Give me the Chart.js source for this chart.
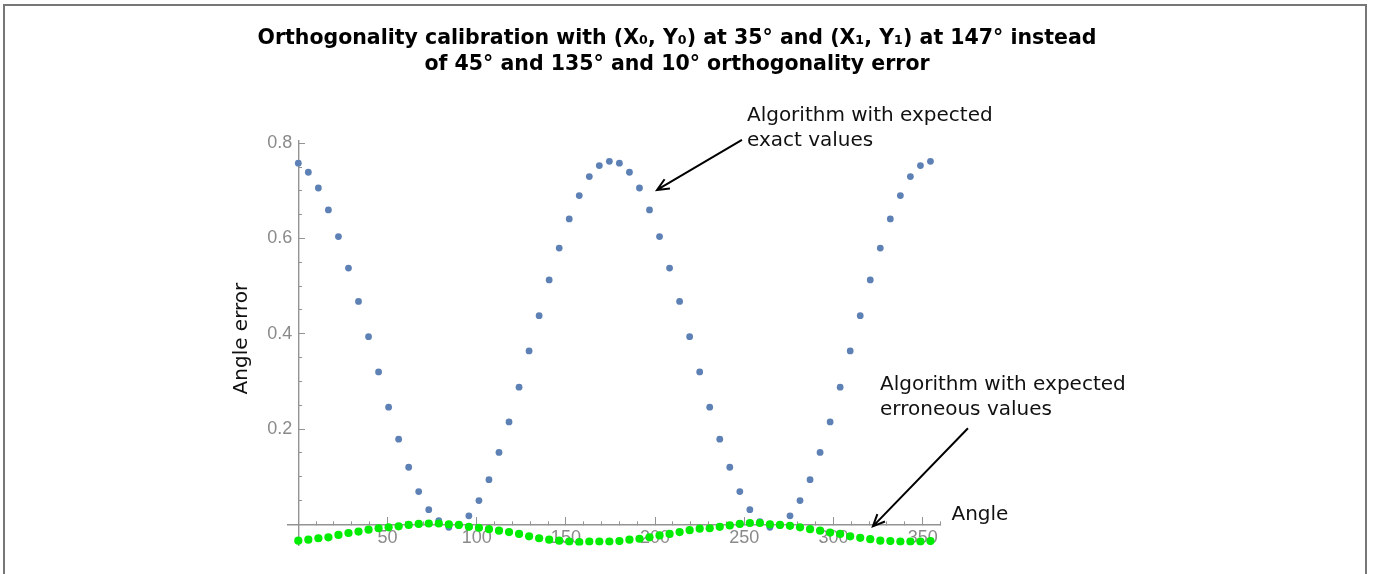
<!DOCTYPE html>
<html>
<head>
<meta charset="utf-8">
<title>Orthogonality calibration</title>
<script src="https://cdn.jsdelivr.net/npm/chart.js@4.4.1/dist/chart.umd.min.js"></script>
<style>
  html, body { margin: 0; padding: 0; background: #fff; }
  #wrap { position: relative; width: 1373px; height: 574px; overflow: hidden; }
  #frame { position: absolute; left: 3px; top: 4px; width: 1360px; height: 620px; border: 2px solid #777; border-bottom: none; }
  #chartBox { position: absolute; left: 0; top: 0; width: 1373px; height: 574px; }
</style>
</head>
<body>
<div id="wrap">
  <div id="frame"></div>
  <div id="chartBox"><canvas id="calibration"></canvas></div>
</div>
<script>
// sample angles (degrees)
const angles = [
  0, 5.625, 11.25, 16.875, 22.5, 28.125, 33.75, 39.375,
  45, 50.625, 56.25, 61.875, 67.5, 73.125, 78.75, 84.375,
  90, 95.625, 101.25, 106.875, 112.5, 118.125, 123.75, 129.375,
  135, 140.625, 146.25, 151.875, 157.5, 163.125, 168.75, 174.375,
  180, 185.625, 191.25, 196.875, 202.5, 208.125, 213.75, 219.375,
  225, 230.625, 236.25, 241.875, 247.5, 253.125, 258.75, 264.375,
  270, 275.625, 281.25, 286.875, 292.5, 298.125, 303.75, 309.375,
  315, 320.625, 326.25, 331.875, 337.5, 343.125, 348.75, 354.375
]

// angle error, algorithm with expected exact values
const exactError = [
  0.758, 0.739, 0.706, 0.660, 0.604, 0.538, 0.468, 0.394,
  0.320, 0.246, 0.179, 0.120, 0.069, 0.031, 0.008, -0.006,
  -0.002, 0.018, 0.050, 0.094, 0.151, 0.215, 0.288, 0.364,
  0.438, 0.513, 0.580, 0.641, 0.690, 0.730, 0.753, 0.762,
  0.758, 0.739, 0.706, 0.660, 0.604, 0.538, 0.468, 0.394,
  0.320, 0.246, 0.179, 0.120, 0.069, 0.031, 0.006, -0.006,
  -0.002, 0.018, 0.050, 0.094, 0.151, 0.215, 0.288, 0.364,
  0.438, 0.513, 0.580, 0.641, 0.690, 0.730, 0.753, 0.762
]

// angle error, algorithm with expected erroneous values
const erroneousError = [
  -0.034, -0.032, -0.029, -0.027, -0.022, -0.018, -0.015, -0.011,
  -0.008, -0.006, -0.004, -0.001, 0.001, 0.002, 0.002, 0.000,
  -0.001, -0.005, -0.007, -0.010, -0.013, -0.016, -0.020, -0.025,
  -0.029, -0.032, -0.034, -0.036, -0.037, -0.036, -0.036, -0.036,
  -0.035, -0.032, -0.030, -0.027, -0.023, -0.020, -0.016, -0.012,
  -0.009, -0.008, -0.005, -0.002, 0.001, 0.003, 0.003, 0.000,
  -0.001, -0.003, -0.006, -0.010, -0.013, -0.017, -0.020, -0.025,
  -0.028, -0.031, -0.034, -0.035, -0.036, -0.036, -0.036, -0.035
]

const titleLines = [
  "Orthogonality calibration with (X\u2080, Y\u2080) at 35\u00b0 and (X\u2081, Y\u2081) at 147\u00b0 instead",
  "of 45\u00b0 and 135\u00b0 and 10\u00b0 orthogonality error"
]
const xTitle = "Angle"
const yTitle = "Angle error"

// callouts: text anchor and arrow ends, in data units
const callouts = [
  { lines: ["Algorithm with expected", "exact values"], at: [251.5, 0.857], tail: [248.7, 0.807], tip: [201.1, 0.702] },
  { lines: ["Algorithm with expected", "erroneous values"], at: [326.1, 0.294], tail: [375.4, 0.2017], tip: [322.1, -0.004] }
]

const axisGray = '#939393'
const labelGray = '#8a8a8a'

const toPoints = (ys) => angles.map((a, i) => ({ x: a, y: ys[i] }))

const drawArrow = (ctx, x1, y1, x2, y2) => {
  const ang = Math.atan2(y2 - y1, x2 - x1)
  const head = 13
  ctx.beginPath()
  ctx.moveTo(x1, y1)
  ctx.lineTo(x2, y2)
  ctx.moveTo(x2 - head * Math.cos(ang - 0.42), y2 - head * Math.sin(ang - 0.42))
  ctx.lineTo(x2, y2)
  ctx.lineTo(x2 - head * Math.cos(ang + 0.42), y2 - head * Math.sin(ang + 0.42))
  ctx.stroke()
}

const calibrationLabels = {
  id: 'calibrationLabels',
  afterDraw(chart) {
    const { ctx, scales: { x, y } } = chart
    ctx.save()

    // title
    ctx.fillStyle = '#000'
    ctx.textAlign = 'center'
    ctx.textBaseline = 'alphabetic'
    ctx.font = "bold 20.5px 'DejaVu Sans'"
    ctx.fillText(titleLines[0], 677, 44)
    ctx.fillText(titleLines[1], 677, 70)

    // axis titles
    ctx.font = "20px 'DejaVu Sans'"
    ctx.fillStyle = '#111'
    ctx.textAlign = 'left'
    ctx.textBaseline = 'middle'
    ctx.fillText(xTitle, x.right + 11, y.getPixelForValue(0) - 10)

    ctx.save()
    ctx.translate(x.getPixelForValue(0) - 57, y.getPixelForValue(0.39))
    ctx.rotate(-Math.PI / 2)
    ctx.textAlign = 'center'
    ctx.fillText(yTitle, 0, 0)
    ctx.restore()

    // callouts
    ctx.strokeStyle = '#000'
    ctx.lineWidth = 2
    callouts.forEach(c => {
      const tx = x.getPixelForValue(c.at[0])
      const ty = y.getPixelForValue(c.at[1])
      c.lines.forEach((line, i) => ctx.fillText(line, tx, ty + i * 25))
      drawArrow(ctx,
        x.getPixelForValue(c.tail[0]), y.getPixelForValue(c.tail[1]),
        x.getPixelForValue(c.tip[0]), y.getPixelForValue(c.tip[1]))
    })

    ctx.restore()
  }
}

const tickFont = { family: "'Liberation Sans', Arial, sans-serif", size: 18 }
const xRange = { min: -6, max: 360 }
const yRange = { min: -0.044, max: 0.805 }

new Chart(document.getElementById('calibration'), {
  type: 'scatter',
  data: {
    datasets: [
      {
        label: 'Algorithm with expected exact values',
        data: toPoints(exactError),
        backgroundColor: '#5e81b5',
        borderColor: '#5e81b5',
        borderWidth: 0,
        pointRadius: 3.4,
        order: 2,
        xAxisID: 'x',
        yAxisID: 'y'
      },
      {
        label: 'Algorithm with expected erroneous values',
        data: toPoints(erroneousError),
        backgroundColor: '#00ec00',
        borderColor: '#00ec00',
        borderWidth: 0,
        pointRadius: 4.1,
        order: 1,
        xAxisID: 'x',
        yAxisID: 'y'
      }
    ]
  },
  options: {
    responsive: true,
    maintainAspectRatio: false,
    animation: false,
    layout: { padding: { left: 287.6, right: 432.5, top: 140.8, bottom: 28.6 } },
    plugins: {
      legend: { display: false },
      title: { display: false },
      tooltip: { enabled: false }
    },
    scales: {
      // horizontal axis through y = 0, minor ticks every 10, labels every 50
      x: {
        type: 'linear',
        axis: 'x',
        position: { y: 0 },
        ...xRange,
        border: { display: true, color: axisGray, width: 1.4 },
        grid: { drawOnChartArea: false, drawTicks: true, tickLength: -4, color: axisGray, tickColor: axisGray },
        ticks: {
          stepSize: 10,
          includeBounds: false,
          autoSkip: false,
          maxRotation: 0,
          padding: 7,
          color: labelGray,
          font: tickFont,
          callback: (v) => (v % 50 === 0 && v !== 0) ? String(v) : ''
        }
      },
      x2: {
        type: 'linear',
        axis: 'x',
        position: { y: 0 },
        ...xRange,
        border: { display: false },
        grid: { drawOnChartArea: false, drawTicks: true, tickLength: -7, tickColor: axisGray },
        ticks: { stepSize: 50, includeBounds: false, display: false }
      },
      // tick labels only, set a little left of the vertical axis
      y: {
        type: 'linear',
        axis: 'y',
        position: { x: -3.4 },
        ...yRange,
        border: { display: false },
        grid: { display: false },
        ticks: {
          stepSize: 0.05,
          includeBounds: false,
          autoSkip: false,
          color: labelGray,
          font: tickFont,
          callback: (v) => {
            const n = Math.round(v * 100)
            return (n % 20 === 0 && n > 0) ? (n / 100).toFixed(1) : ''
          }
        }
      },
      // vertical axis line through x = 0 with minor ticks
      y1: {
        type: 'linear',
        axis: 'y',
        position: { x: 0 },
        ...yRange,
        border: { display: true, color: axisGray, width: 1.4 },
        grid: { drawOnChartArea: false, drawTicks: true, tickLength: -4, tickColor: axisGray },
        ticks: { stepSize: 0.05, includeBounds: false, display: false }
      },
      y2: {
        type: 'linear',
        axis: 'y',
        position: { x: 0 },
        ...yRange,
        border: { display: false },
        grid: { drawOnChartArea: false, drawTicks: true, tickLength: -7, tickColor: axisGray },
        ticks: { stepSize: 0.2, includeBounds: false, display: false }
      }
    }
  },
  plugins: [calibrationLabels]
})
</script>
</body>
</html>
